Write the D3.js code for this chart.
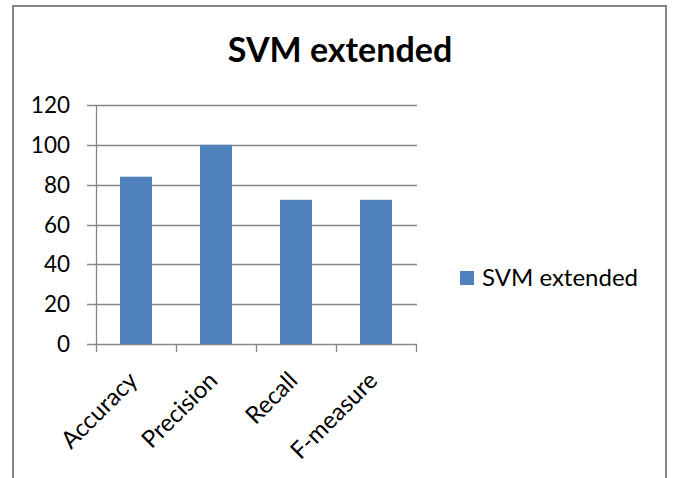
<!DOCTYPE html>
<html><head><meta charset="utf-8">
<script src="https://cdn.jsdelivr.net/npm/d3@7"></script>
<style>body{margin:0;background:#fff}svg{display:block}</style>
</head><body>
<svg id="c" width="673" height="478"></svg>
<script>
const categories = ["Accuracy", "Precision", "Recall", "F-measure"];
const seriesName = "SVM extended";
const values = [84, 100, 72.4, 72.4];
const yTicks = [0, 20, 40, 60, 80, 100, 120];
const titleText = "SVM extended";

const svg = d3.select("#c");
const font = "Lato, 'Open Sans', sans-serif";
const gridColor = "#868686";
const barColor = "#4F81BD";

// frame
svg.append("rect").attr("x", 13).attr("y", 6).attr("width", 653).attr("height", 500)
  .attr("fill", "none").attr("stroke", gridColor).attr("stroke-width", 2);

const x0 = 96, x1 = 416, yTop = 105, yBot = 344;
const x = d3.scaleBand().domain(categories).range([x0, x1]).paddingInner(0.6).paddingOuter(0.3);
const xb = d3.scaleBand().domain(categories).range([x0, x1]);
const y = d3.scaleLinear().domain([0, 120]).range([yBot, yTop]);

// gridlines
svg.append("g").selectAll("line").data(yTicks).join("line")
  .attr("x1", x0 - 9).attr("x2", x1 + 1)
  .attr("y1", d => Math.round(y(d)) + 0.5).attr("y2", d => Math.round(y(d)) + 0.5)
  .attr("stroke", gridColor).attr("stroke-width", 1.3);

// y axis line
svg.append("line").attr("x1", x0 + 0.5).attr("x2", x0 + 0.5).attr("y1", yTop).attr("y2", yBot)
  .attr("stroke", gridColor).attr("stroke-width", 1.3);

// bottom ticks
const bTicks = categories.map(c => xb(c)).concat([x1]);
svg.append("g").selectAll("line").data(bTicks).join("line")
  .attr("x1", d => d + 0.5).attr("x2", d => d + 0.5).attr("y1", yBot).attr("y2", yBot + 8)
  .attr("stroke", gridColor).attr("stroke-width", 1.3);

// y labels
svg.append("g").selectAll("text").data(yTicks).join("text")
  .attr("x", 70).attr("y", d => y(d)).attr("dy", "0.36em")
  .attr("text-anchor", "end").attr("font-family", font).attr("font-size", 22.5)
  .attr("fill", "#000").text(d => d);

// bars
svg.append("g").selectAll("rect").data(values).join("rect")
  .attr("x", (d, i) => x(categories[i])).attr("width", x.bandwidth())
  .attr("y", d => y(d)).attr("height", d => yBot - y(d))
  .attr("fill", barColor);

// category labels
svg.append("g").selectAll("text").data(categories).join("text")
  .attr("transform", c => `translate(${xb(c) + xb.bandwidth() / 2 + 3},${yBot + 38}) rotate(-45)`)
  .attr("text-anchor", "end").attr("font-family", font).attr("font-size", 24)
  .attr("fill", "#000").text(c => c);

// title
svg.append("text").attr("x", 340).attr("y", 62).attr("text-anchor", "middle")
  .attr("font-family", font).attr("font-weight", "bold").attr("font-size", 34)
  .attr("fill", "#000").text(titleText);

// legend
svg.append("rect").attr("x", 460).attr("y", 271).attr("width", 14).attr("height", 14).attr("fill", barColor);
svg.append("text").attr("x", 482).attr("y", 286).attr("font-family", font).attr("font-size", 24)
  .attr("fill", "#000").text(seriesName);
</script>
</body></html>
